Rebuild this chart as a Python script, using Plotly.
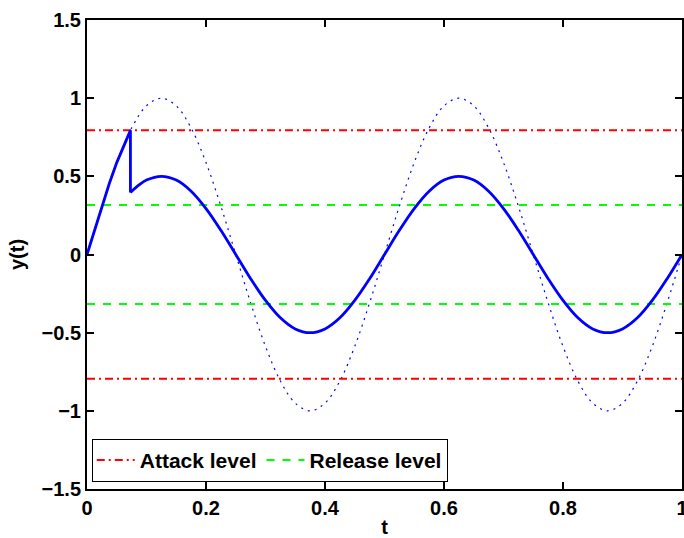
import plotly.graph_objects as go

# Time samples and the reference sine (amplitude 1, 2 Hz)
t = [0.000, 0.025, 0.050, 0.075, 0.100, 0.125, 0.150, 0.175, 0.200, 0.225,
     0.250, 0.275, 0.300, 0.325, 0.350, 0.375, 0.400, 0.425, 0.450, 0.475,
     0.500, 0.525, 0.550, 0.575, 0.600, 0.625, 0.650, 0.675, 0.700, 0.725,
     0.750, 0.775, 0.800, 0.825, 0.850, 0.875, 0.900, 0.925, 0.950, 0.975,
     1.000]
x_in = [0.000, 0.309, 0.588, 0.809, 0.951, 1.000, 0.951, 0.809, 0.588, 0.309,
        0.000, -0.309, -0.588, -0.809, -0.951, -1.000, -0.951, -0.809, -0.588, -0.309,
        0.000, 0.309, 0.588, 0.809, 0.951, 1.000, 0.951, 0.809, 0.588, 0.309,
        0.000, -0.309, -0.588, -0.809, -0.951, -1.000, -0.951, -0.809, -0.588, -0.309,
        0.000]

# Compressor output: rise until the attack level is hit, then gain steps to 0.5
t_rise = [0.000, 0.0125, 0.025, 0.0375, 0.050, 0.0625, 0.073, 0.073]
y_rise = [0.000, 0.155, 0.309, 0.454, 0.588, 0.707, 0.794, 0.397]
t_hold = [0.073, 0.0875, 0.100, 0.125, 0.150, 0.175, 0.200, 0.225,
          0.250, 0.275, 0.300, 0.325, 0.350, 0.375, 0.400, 0.425, 0.450, 0.475,
          0.500, 0.525, 0.550, 0.575, 0.600, 0.625, 0.650, 0.675, 0.700, 0.725,
          0.750, 0.775, 0.800, 0.825, 0.850, 0.875, 0.900, 0.925, 0.950, 0.975,
          1.000]
y_hold = [0.397, 0.445, 0.476, 0.500, 0.476, 0.405, 0.294, 0.155,
          0.000, -0.155, -0.294, -0.405, -0.476, -0.500, -0.476, -0.405, -0.294, -0.155,
          0.000, 0.155, 0.294, 0.405, 0.476, 0.500, 0.476, 0.405, 0.294, 0.155,
          0.000, -0.155, -0.294, -0.405, -0.476, -0.500, -0.476, -0.405, -0.294, -0.155,
          0.000]

attack_level = 0.794
release_level = 0.316
t_span = [0, 1]

x_ticks = [0, 0.2, 0.4, 0.6, 0.8, 1]
x_labels = ["0", "0.2", "0.4", "0.6", "0.8", "1"]
y_ticks = [-1.5, -1, -0.5, 0, 0.5, 1, 1.5]
y_labels = ["\u22121.5", "\u22121", "\u22120.5", "0", "0.5", "1", "1.5"]

FONT = "Liberation Sans, Arial, sans-serif"
RED = "#FF0000"
GREEN = "#00FF00"
BLUE = "#0000FF"
DASHDOT = "8px,4px,2px,4px"
DASH = "8px,8px"


def bold(s):
    return f"<b>{s}</b>"


fig = go.Figure()

fig.add_trace(go.Scatter(x=t, y=x_in, mode="lines", showlegend=False,
                         line=dict(color=BLUE, width=1.2, dash="2px,5px", shape="spline")))

for sign, show in [(1, True), (-1, False)]:
    fig.add_trace(go.Scatter(x=t_span, y=[sign * attack_level] * 2, mode="lines",
                             name=bold("Attack level"), legendgroup="a", showlegend=show,
                             line=dict(color=RED, width=2, dash=DASHDOT)))
for sign, show in [(1, True), (-1, False)]:
    fig.add_trace(go.Scatter(x=t_span, y=[sign * release_level] * 2, mode="lines",
                             name=bold("Release level"), legendgroup="r", showlegend=show,
                             line=dict(color=GREEN, width=2, dash=DASH)))

fig.add_trace(go.Scatter(x=t_rise, y=y_rise, mode="lines", showlegend=False,
                         line=dict(color=BLUE, width=2.8)))
fig.add_trace(go.Scatter(x=t_hold, y=y_hold, mode="lines", showlegend=False,
                         line=dict(color=BLUE, width=2.8, shape="spline")))

axis_common = dict(
    showline=True, linecolor="black", linewidth=2, mirror="ticks",
    ticks="inside", ticklen=7, tickwidth=2, tickcolor="black",
    showgrid=False, zeroline=False, ticklabeloverflow="allow", automargin=False,
    tickfont=dict(family=FONT, size=20, color="black"),
)

fig.update_layout(
    width=684, height=538,
    margin=dict(l=87, r=2, t=20, b=49),
    paper_bgcolor="white", plot_bgcolor="white",
    xaxis=dict(range=[0, 1], tickvals=x_ticks, ticktext=[bold(s) for s in x_labels],
               title=dict(text=bold("t"), standoff=8,
                          font=dict(family=FONT, size=20, color="black")),
               **axis_common),
    yaxis=dict(range=[-1.5, 1.5], tickvals=y_ticks, ticktext=[bold(s) for s in y_labels],
               title=dict(text=bold("y(t)"), standoff=12,
                          font=dict(family=FONT, size=20, color="black")),
               **axis_common),
    legend=dict(orientation="h", x=0.008, y=0.015, xanchor="left", yanchor="bottom",
                bgcolor="white", bordercolor="black", borderwidth=1,
                font=dict(family=FONT, size=21, color="black"),
                itemwidth=38, tracegroupgap=0),
)

fig.write_html("out.html")
